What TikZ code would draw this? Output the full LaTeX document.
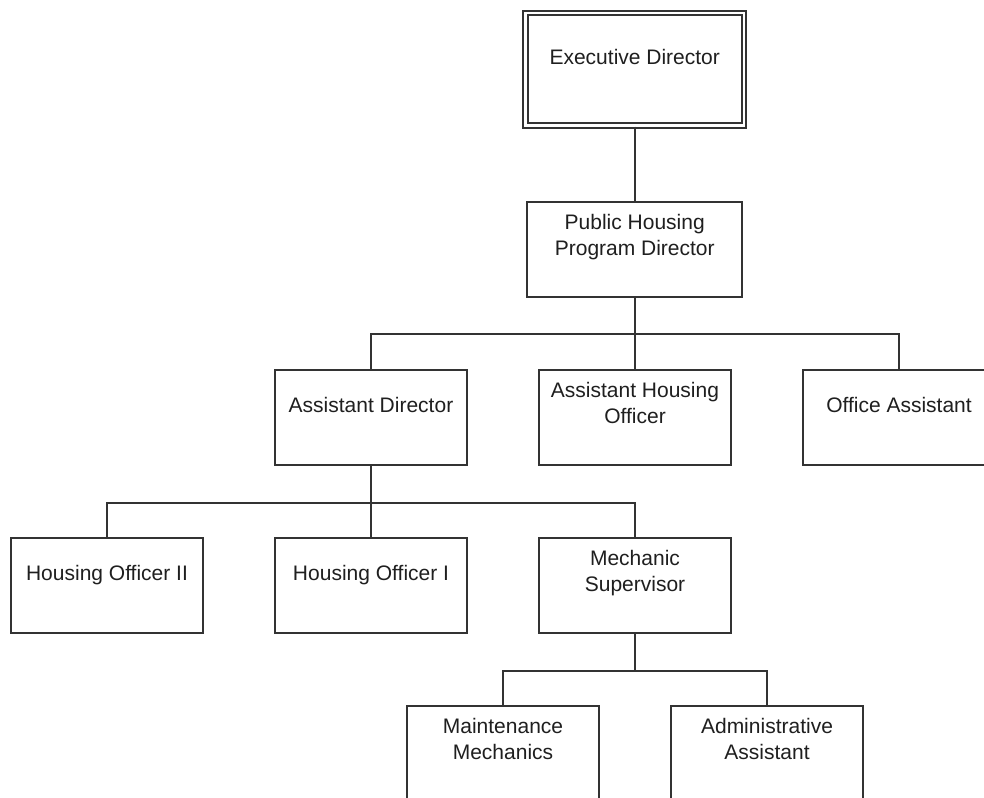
\documentclass[tikz,border=0pt]{standalone}
\usepackage{fontspec}
\setmainfont{Liberation Sans}
\begin{document}
\begin{tikzpicture}[x=1pt,y=-1pt,
  box/.style={draw=black!80, line width=2pt, fill=white, minimum width=191.5pt, minimum height=95pt, inner sep=0pt, line join=miter},
  lbl/.style={anchor=north, inner sep=0pt, align=center, font=\fontsize{21}{26}\selectfont, text=black!88},
  conn/.style={draw=black!80, line width=2pt}]
\useasboundingbox (0,0) rectangle (984,797);
\clip (0,0) rectangle (984,797);
% boxes
\node[box, minimum width=218.5pt, minimum height=112.5pt, double, double distance=2.8pt, line width=2pt] (exec) at (634.75,69.25) {};
\node[box, minimum width=215pt] (pub) at (634.75,249.5) {};
\node[box] (ad)  at (371,417.5) {};
\node[box] (aho) at (635,417.5) {};
\node[box] (oa)  at (899,417.5) {};
\node[box] (ho2) at (107,585.8) {};
\node[box] (ho1) at (371,585.8) {};
\node[box] (ms)  at (635,585.8) {};
\node[box] (mm)  at (503,753.5) {};
\node[box] (aa)  at (767,753.5) {};
% labels
\node[lbl] (texec) at ([yshift=-36pt]exec.north) {\rule{0pt}{16pt}Executive Director};
\node[lbl] (tpub) at ([yshift=-12pt]pub.north) {\rule{0pt}{16pt}Public Housing\\Program Director};
\node[lbl] (tad) at ([yshift=-27pt]ad.north) {\rule{0pt}{16pt}Assistant Director};
\node[lbl] (taho) at ([yshift=-12pt]aho.north) {\rule{0pt}{16pt}Assistant Housing\\Officer};
\node[lbl] (toa) at ([yshift=-27pt]oa.north) {\rule{0pt}{16pt}Office Assistant};
\node[lbl] (tho2) at ([yshift=-27pt]ho2.north) {\rule{0pt}{16pt}Housing Officer II};
\node[lbl] (tho1) at ([yshift=-27pt]ho1.north) {\rule{0pt}{16pt}Housing Officer I};
\node[lbl] (tms) at ([yshift=-12pt]ms.north) {\rule{0pt}{16pt}Mechanic\\Supervisor};
\node[lbl] (tmm) at ([yshift=-12pt]mm.north) {\rule{0pt}{16pt}Maintenance\\Mechanics};
\node[lbl] (taa) at ([yshift=-12pt]aa.north) {\rule{0pt}{16pt}Administrative\\Assistant};
% connectors
\draw[conn] (exec.south) -- (pub.north);
\draw[conn] (pub.south) -- ++(0,36) -| (ad.north);
\draw[conn] (pub.south) -- ++(0,36) -| (aho.north);
\draw[conn] (pub.south) -- ++(0,36) -| (oa.north);
\draw[conn] (ad.south) -- ++(0,36.5) -| (ho2.north);
\draw[conn] (ad.south) -- ++(0,36.5) -| (ho1.north);
\draw[conn] (ad.south) -- ++(0,36.5) -| (ms.north);
\draw[conn] (ms.south) -- ++(0,36.5) -| (mm.north);
\draw[conn] (ms.south) -- ++(0,36.5) -| (aa.north);
\end{tikzpicture}
\end{document}
